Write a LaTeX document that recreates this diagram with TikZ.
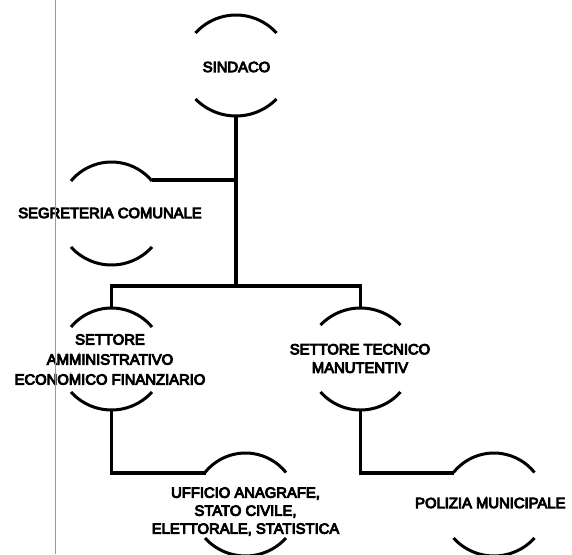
\documentclass[tikz,border=0pt]{standalone}
\usepackage{fontspec}
\setmainfont{Liberation Sans}[FakeBold=6]
\newcommand\arcTop[4]{% cx, end y, half width, sagitta (bulges up)
  \pgfmathsetmacro\arcR{(#3*#3+#4*#4)/(2*#4)}%
  \pgfmathsetmacro\arcA{asin(#3/\arcR)}%
  \draw[arcline] ({#1-#3},#2) arc[start angle={-90-\arcA}, end angle={-90+\arcA}, radius=\arcR];}
\newcommand\arcBot[4]{% cx, end y, half width, sagitta (bulges down)
  \pgfmathsetmacro\arcR{(#3*#3+#4*#4)/(2*#4)}%
  \pgfmathsetmacro\arcA{asin(#3/\arcR)}%
  \draw[arcline] ({#1-#3},#2) arc[start angle={90+\arcA}, end angle={90-\arcA}, radius=\arcR];}
\begin{document}
\begin{tikzpicture}[x=1pt,y=-1pt,
  lbl/.style={inner sep=0pt, align=center, font=\fontsize{14.8}{18.5}\selectfont},
  arcline/.style={line width=3pt, black},
  conn/.style={line width=3.2pt, black, line join=miter},
  scanline/.style={line width=0.8pt, black!40}]
\useasboundingbox (0,0) rectangle (572,554);
% nodes
\node[lbl] (sind) at (236.5,67) {SINDACO};
\node[lbl] (segr) at (110,213) {SEGRETERIA COMUNALE};
\node[lbl, font=\fontsize{14.8}{20}\selectfont] (amm) at (110,359.5) {SETTORE\\AMMINISTRATIVO\\ECONOMICO FINANZIARIO};
\node[lbl] (tec) at (360,358.5) {SETTORE TECNICO\\MANUTENTIV};
\node[lbl, font=\fontsize{14.8}{18}\selectfont] (uff) at (245.5,511.5) {UFFICIO ANAGRAFE,\\STATO CIVILE,\\ELETTORALE, STATISTICA};
\node[lbl, anchor=west] (pol) at (415,503) {POLIZIA MUNICIPALE};
% arcs around the nodes
\arcTop{236}{33}{40.5}{18}   \arcBot{236}{99}{40.5}{17}
\arcTop{111.5}{181}{40.5}{19} \arcBot{111.5}{247}{40.5}{18}
\arcTop{111.5}{327}{40.5}{19} \arcBot{111.5}{392}{40.5}{18}
\arcTop{360.5}{325}{40}{17}  \arcBot{360.5}{392}{40}{18}
\arcTop{245.5}{472.5}{40.5}{19.5} \arcBot{245.5}{538}{40.5}{18}
\arcTop{494}{472.5}{40.5}{19.5} \arcBot{494}{538}{40.5}{18}
% connector points
\coordinate (sindB) at (236,116);
\coordinate (busS) at (236,180);
\coordinate (segrE) at (151.5,180);
\coordinate (busM) at (236,286);
\coordinate (busL) at (111.5,286);
\coordinate (busR) at (360.5,286);
\coordinate (ammT) at (111.5,308);
\coordinate (tecT) at (360.5,308);
\coordinate (ammB) at (111.5,410);
\coordinate (uffW) at (205.5,473);
\coordinate (tecB) at (360.5,410);
\coordinate (polW) at (454,473);
% connectors
\draw[conn] (sindB) -- (busM);
\draw[conn] (segrE) -- (busS);
\draw[conn] (ammT) -- (busL) -- (busR) -- (tecT);
\draw[conn] (ammB) |- (uffW);
\draw[conn] (tecB) |- (polW);
% scan margin line
\draw[scanline] (55.5,0) -- (55.5,554);
\end{tikzpicture}
\end{document}
